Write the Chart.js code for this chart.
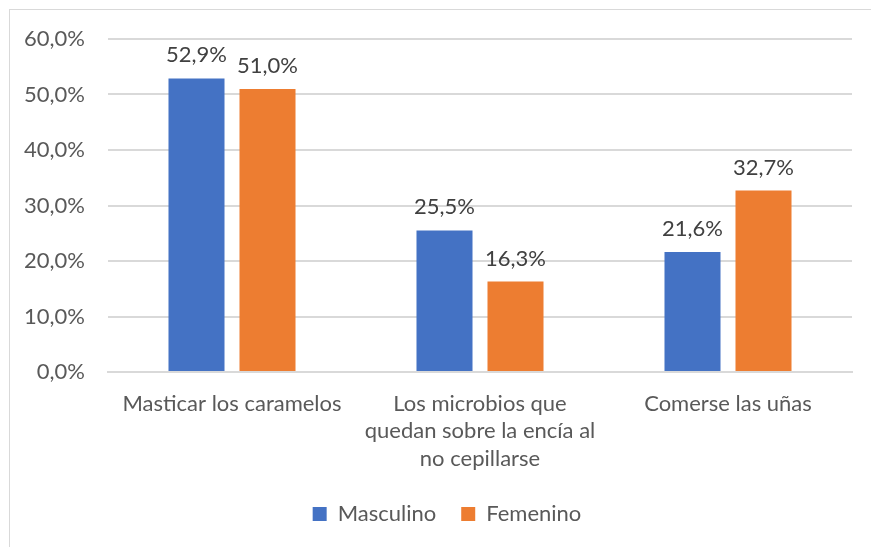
<!DOCTYPE html>
<html>
<head>
<meta charset="utf-8">
<script src="https://cdn.jsdelivr.net/npm/chart.js@4/dist/chart.umd.min.js"></script>
<style>
  html, body { margin: 0; padding: 0; background: #fff; }
  #wrap { position: relative; width: 871px; height: 547px; overflow: hidden; }
  #frame { position: absolute; left: 9px; top: 9px; width: 870px; height: 600px; border: 1px solid #d9d9d9; box-sizing: border-box; }
  canvas { position: absolute; left: 0; top: 0; }
</style>
</head>
<body>
<div id="wrap">
  <div id="frame"></div>
  <canvas id="c" width="871" height="547"></canvas>
</div>
<script>
const categories = [
  "Masticar los caramelos",
  ["Los microbios que", "quedan sobre la encía al", "no cepillarse"],
  "Comerse las uñas"
];
const masculino = [52.9, 25.5, 21.6];
const femenino = [51.0, 16.3, 32.7];
const seriesNames = ["Masculino", "Femenino"];
const yTicks = { min: 0, max: 60, step: 10 };

const FONT = "Lato, 'Open Sans', sans-serif";
const FS = 22;
const fmt = v => v.toFixed(1).replace('.', ',') + '%';

const dataLabels = {
  id: 'dataLabels',
  afterDatasetsDraw(chart) {
    const ctx = chart.ctx;
    ctx.save();
    ctx.font = FS + 'px ' + FONT;
    ctx.fillStyle = '#404040';
    ctx.textAlign = 'center';
    ctx.textBaseline = 'alphabetic';
    chart.data.datasets.forEach((ds, i) => {
      const meta = chart.getDatasetMeta(i);
      meta.data.forEach((bar, j) => {
        ctx.fillText(fmt(ds.data[j]), bar.x, bar.y - 16);
      });
    });
    ctx.restore();
  }
};

const legendShift = {
  id: 'legendShift',
  afterLayout(chart) {
    if (chart.legend) {
      chart.legend.left += 21;
      chart.legend.right += 21;
    }
  }
};

new Chart(document.getElementById('c'), {
  type: 'bar',
  data: {
    labels: categories,
    datasets: [
      { label: seriesNames[0], data: masculino, backgroundColor: '#4472C4' },
      { label: seriesNames[1], data: femenino, backgroundColor: '#ED7D31' }
    ]
  },
  options: {
    responsive: false,
    animation: false,
    devicePixelRatio: 1,
    layout: { padding: { top: 39, right: 19, bottom: 12, left: 0 } },
    datasets: { bar: { categoryPercentage: 0.5726, barPercentage: 0.789 } },
    plugins: {
      legend: {
        position: 'bottom',
        labels: {
          font: { family: FONT, size: FS },
          color: '#595959',
          boxWidth: 14,
          boxHeight: 14,
          padding: 25
        }
      },
      tooltip: { enabled: false }
    },
    scales: {
      x: {
        grid: { display: false, drawTicks: false },
        border: { color: '#d9d9d9', width: 2 },
        ticks: {
          font: { family: FONT, size: FS, lineHeight: 1.25 },
          color: '#595959',
          padding: 18,
          maxRotation: 0,
          autoSkip: false
        },
        afterFit(scale) { scale.height = 106; }
      },
      y: {
        min: yTicks.min,
        max: yTicks.max,
        grid: { color: '#d9d9d9', lineWidth: 2, drawTicks: false },
        border: { display: false },
        ticks: {
          stepSize: yTicks.step,
          font: { family: FONT, size: FS },
          color: '#595959',
          padding: 23,
          callback: v => fmt(v)
        },
        afterFit(scale) { scale.width = 108; }
      }
    }
  },
  plugins: [dataLabels, legendShift]
});
</script>
</body>
</html>
